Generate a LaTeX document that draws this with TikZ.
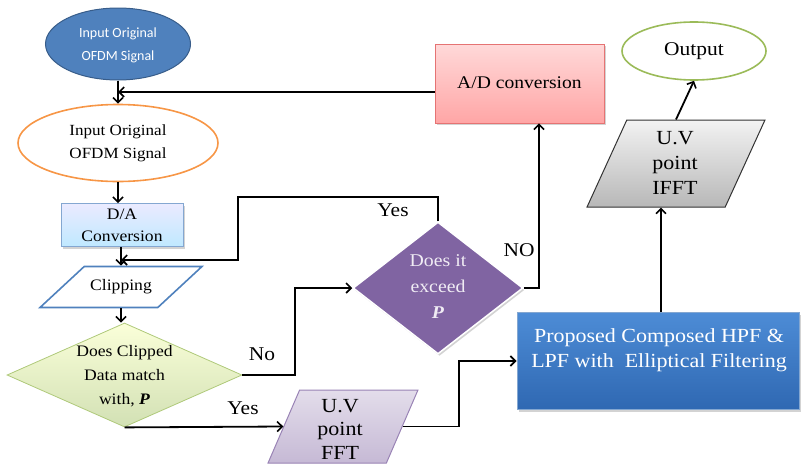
\documentclass[tikz,border=0pt]{standalone}
\usepackage{fontspec}
\setmainfont{Liberation Serif}[FakeStretch=1.1]
\newfontfamily\calfont{Carlito}
\usetikzlibrary{shapes.geometric,arrows.meta,shadows}
\definecolor{dkblue}{HTML}{4F81BD}
\definecolor{dkblueb}{HTML}{385D8A}
\definecolor{orng}{HTML}{F79646}
\definecolor{lgreen}{HTML}{9BBB59}
\definecolor{purp}{HTML}{8064A2}
\definecolor{hpftop}{HTML}{4D8CD6}
\definecolor{hpfbot}{HTML}{2F68B2}
\begin{document}
\begin{tikzpicture}[x=1pt,y=-1pt,
  arr/.style={draw=black,line width=1.8pt,-{Straight Barb[length=5pt,width=10pt,line width=1.6pt]}},
  lbl/.style={font=\fontsize{19.5}{22}\selectfont,inner sep=0pt},
  txt/.style={align=center,font=\fontsize{15.5}{23}\selectfont,inner sep=0pt},
  shd/.style={drop shadow={opacity=0.35,shadow xshift=1.5pt,shadow yshift=-2pt}},
  para/.style={trapezium,trapezium stretches=true,inner sep=2pt,line width=1.2pt}
]
\useasboundingbox (0,0) rectangle (803,466);

% shapes
\node[ellipse,minimum width=145pt,minimum height=72pt,inner sep=0pt,fill=dkblue,draw=dkblueb,line width=1pt] (in1) at (118,44) {};
\node[txt,text=white,font=\calfont\fontsize{14}{23}\selectfont] (in1t) at (118,45) {Input Original\\OFDM Signal};

\node[ellipse,minimum width=200pt,minimum height=77pt,inner sep=0pt,fill=white,draw=orng,line width=1.6pt] (in2) at (118,143) {};
\node[txt] (in2t) at (118,143) {Input Original\\OFDM Signal};

\node[rectangle,minimum width=122pt,minimum height=43pt,inner sep=0pt,top color=blue!8!white,bottom color=blue!35!cyan!25!white,draw=dkblue!70,line width=0.8pt,shd] (da) at (122,225) {};
\node[txt,font=\fontsize{16}{22}\selectfont] (dat) at (122,225) {D/A\\Conversion};

\node[para,minimum width=162pt,minimum height=41pt,trapezium left angle=59,trapezium right angle=121,fill=white,draw=dkblue,line width=1.6pt] (clip) at (121,287) {};
\node[txt,font=\fontsize{16}{22}\selectfont] (clipt) at (121,287) {Clipping};

\node[diamond,minimum width=235pt,minimum height=104pt,inner sep=1pt,top color=green!12!yellow!15!white,bottom color=lgreen!45!white,draw=lgreen!80,line width=0.8pt] (q1) at (124.5,375) {};
\node[txt,font=\fontsize{16}{24}\selectfont] (q1t) at (124.5,376) {Does Clipped\\Data match\\with, \textbf{\textit{P}}};

\node[para,minimum width=150pt,minimum height=73pt,trapezium left angle=70,trapezium right angle=110,top color=purp!22!white,bottom color=purp!45!white,draw=purp!80,line width=1pt] (fft) at (343,426.5) {};
\node[txt,font=\fontsize{20}{23.5}\selectfont] (fftt) at (340,429) {U.V\\point\\FFT};

\node[diamond,minimum width=170pt,minimum height=132pt,inner sep=1pt,fill=purp,draw=white,line width=1.5pt,shd] (q2) at (438,288) {};
\node[txt,text=white!88!purp,font=\fontsize{18}{26}\selectfont] (q2t) at (438,287) {Does it\\exceed\\\textbf{\textit{P}}};

\node[rectangle,minimum width=169pt,minimum height=79pt,inner sep=0pt,top color=red!15!white,bottom color=red!35!white,draw=red!50!white!90!black,line width=0.8pt,shd] (ad) at (519.5,83.5) {};
\node[txt,font=\fontsize{17.8}{20}\selectfont] (adt) at (519.5,83) {A/D conversion};

\node[ellipse,minimum width=144pt,minimum height=58pt,inner sep=0pt,fill=white,draw=lgreen,line width=1.6pt] (out) at (694,51) {};
\node[txt,font=\fontsize{19.5}{22}\selectfont] (outt) at (694,51) {Output};

\node[para,minimum width=178pt,minimum height=87pt,trapezium left angle=68,trapezium right angle=112,top color=white!95!black,bottom color=white!72!black,draw=black!80,line width=1pt] (ifft) at (676,163.5) {};
\node[txt,font=\fontsize{20}{25}\selectfont] (ifftt) at (675,163) {U.V\\point\\IFFT};

\node[rectangle,minimum width=282pt,minimum height=97pt,inner sep=0pt,top color=hpftop,bottom color=hpfbot,draw=dkblue!70!white,line width=1pt,shd] (hpf) at (658,361) {};
\node[txt,text=white,font=\fontsize{20}{25}\selectfont] (hpft) at (659,350) {Proposed Composed HPF \&\\LPF with\ \ Elliptical Filtering};

% connectors
\coordinate (j1) at (121,260);
\draw[arr] (in1.south) -- (in2.north);
\draw[arr] ([yshift=-8.5pt]ad.west) -- ([yshift=-8.5pt]ad.west -| in2.north);
\draw[arr] (in2.south) -- (in2.south |- da.north);
\draw[arr] (da.south -| j1) -- (clip.north -| j1);
\draw[arr] (q2.north) |- (238,197) -- (238,260) -- (j1);
\draw[arr] (clip.south) -- (clip.south |- q1.north);
\draw[arr] (q1.east) -- (295,375) |- (q2.west);
\draw[arr] (q1.south) -- (fft.west);
\draw[arr] (fft.east) -- (459,426.5) |- (hpf.west);
\draw[arr] (q2.east) -| ([xshift=19.5pt]ad.south);
\draw[arr] ([xshift=3pt]hpf.north) -- ([xshift=3pt]hpf.north |- ifft.south);
\draw[arr] (ifft.north) -- (out.south);

% labels
\node[lbl] (lyes1) at (393,210) {Yes};
\node[lbl] (lno1) at (262,354) {No};
\node[lbl] (lyes2) at (243,408) {Yes};
\node[lbl] (lno2) at (519,250) {NO};
\end{tikzpicture}
\end{document}
